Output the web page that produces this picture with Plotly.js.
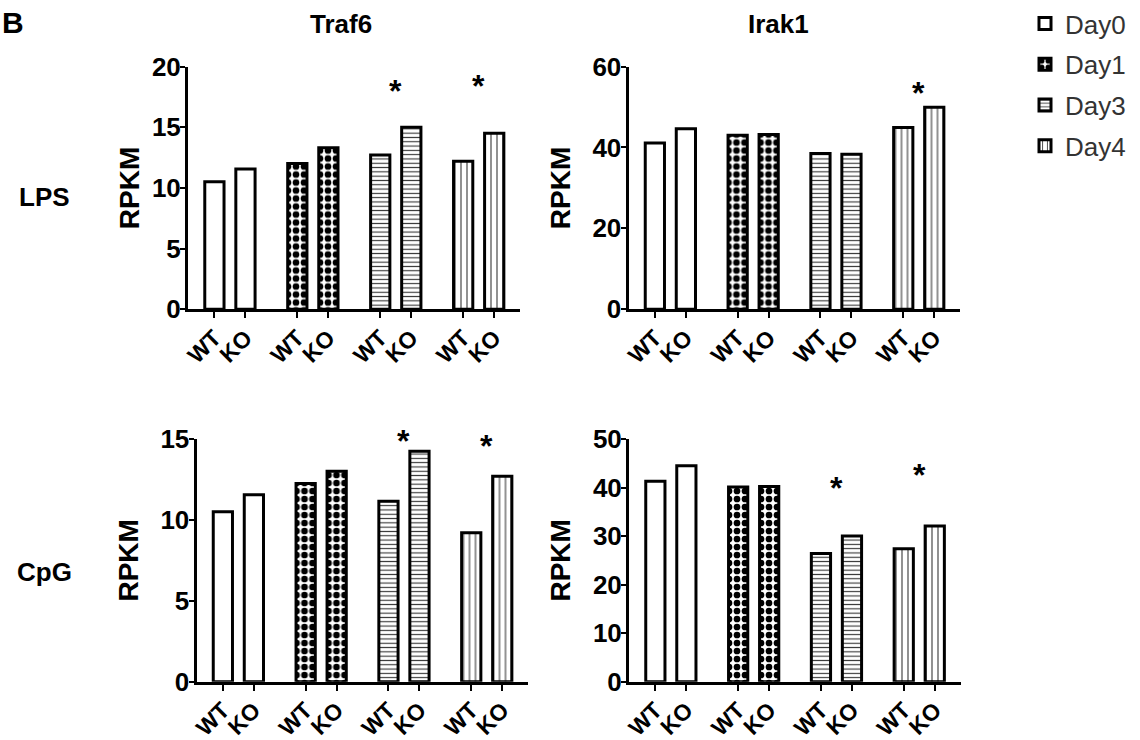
<!DOCTYPE html>
<html>
<head>
<meta charset="utf-8">
<script src="https://cdn.plot.ly/plotly-3.0.1.min.js"></script>
<style>html,body{margin:0;padding:0;background:#fff}</style>
</head>
<body>
<div id="chart" style="width:1140px;height:740px"></div>
<script>
// ---------------- data ----------------
const days = ['Day0', 'Day1', 'Day3', 'Day4'];
const genotypes = ['WT', 'KO'];
const genes = ['Traf6', 'Irak1'];
const stimuli = ['LPS', 'CpG'];

const traf6LpsWT = [10.5, 12.0, 12.7, 12.2];
const traf6LpsKO = [11.55, 13.3, 15.0, 14.5];
const irak1LpsWT = [41.1, 43.0, 38.5, 44.9];
const irak1LpsKO = [44.6, 43.2, 38.3, 49.9];
const traf6CpgWT = [10.5, 12.25, 11.15, 9.2];
const traf6CpgKO = [11.55, 13.0, 14.25, 12.7];
const irak1CpgWT = [41.3, 40.1, 26.4, 27.4];
const irak1CpgKO = [44.5, 40.2, 30.0, 32.1];

// significance marks: level (RPKM) where the * is drawn, null = not significant
const traf6LpsStar = [null, null, 18.3, 18.7];
const irak1LpsStar = [null, null, null, 54.5];
const traf6CpgStar = [null, null, 15.1, 14.8];
const irak1CpgStar = [null, null, 40.7, 43.4];

const yAxisMax = [20, 60, 15, 50];
const yAxisStep = [5, 20, 5, 10];

// ---------------- layout helpers ----------------
const W = 1140, H = 740;
const FONT = 'Liberation Sans, Arial, sans-serif';
const GROUP_STEP = 2.67;
const BAR_WIDTH = 0.62;
const XRANGE = [-0.85, 9.84];

const panels = [
  {wt: traf6LpsWT, ko: traf6LpsKO, star: traf6LpsStar, px: [188, 520], py: [66.5, 309.3], standoff: 5},
  {wt: irak1LpsWT, ko: irak1LpsKO, star: irak1LpsStar, px: [628.5, 960], py: [66.5, 309.3], standoff: 14},
  {wt: traf6CpgWT, ko: traf6CpgKO, star: traf6CpgStar, px: [196.5, 528], py: [439, 681.7], standoff: 14},
  {wt: irak1CpgWT, ko: irak1CpgKO, star: irak1CpgStar, px: [629, 960.5], py: [439, 681.7], standoff: 15}
];

const patterns = [
  {shape: ''},
  {shape: '.', size: 8, solidity: 0.55, fgcolor: '#000', fgopacity: 1},
  {shape: '-', size: 4.3, solidity: 0.26, fgcolor: '#333', fgopacity: 1},
  {shape: '|', size: 6, solidity: 0.18, fgcolor: '#333', fgopacity: 1}
];

const pos = (d, g) => d * GROUP_STEP + g;

const traces = [];
const layout = {
  width: W, height: H,
  margin: {l: 0, r: 0, t: 0, b: 0},
  paper_bgcolor: '#fff',
  plot_bgcolor: 'rgba(0,0,0,0)',
  barmode: 'overlay',
  showlegend: true,
  legend: {
    x: 1025 / W, y: 1 - 0 / H, xanchor: 'left', yanchor: 'top',
    font: {family: FONT, size: 26, color: '#333'},
    bgcolor: 'rgba(0,0,0,0)', borderwidth: 0,
    tracegroupgap: 4, itemwidth: 30
  },
  font: {family: FONT, color: '#000'},
  annotations: []
};

panels.forEach((p, k) => {
  const n = k + 1;
  const xa = 'x' + n, ya = 'y' + n;
  days.forEach((day, d) => {
    traces.push({
      type: 'bar',
      x: [pos(d, 0), pos(d, 1)],
      y: [p.wt[d], p.ko[d]],
      width: BAR_WIDTH,
      name: day,
      legendgroup: day,
      showlegend: k === 0,
      xaxis: xa, yaxis: ya,
      marker: {
        color: '#fff',
        line: {color: '#000', width: 3},
        pattern: patterns[d]
      },
      hoverinfo: 'skip'
    });
    if (p.star[d] !== null) {
      layout.annotations.push({
        xref: xa, yref: ya + ' domain',
        x: pos(d, 0.5), y: p.star[d] / yAxisMax[k],
        text: '*', showarrow: false,
        xanchor: 'center', yanchor: 'middle', yshift: -4,
        font: {family: FONT, size: 32, weight: 700, color: '#000'}
      });
    }
  });
  const tickvals = [], ticktext = [];
  days.forEach((day, d) => genotypes.forEach((g, gi) => { tickvals.push(pos(d, gi)); ticktext.push(g); }));
  layout['xaxis' + n] = {
    domain: [p.px[0] / W, p.px[1] / W],
    anchor: ya,
    range: XRANGE,
    tickmode: 'array', tickvals: tickvals, ticktext: ticktext,
    tickangle: -45,
    ticklabelstandoff: -3,
    tickfont: {family: FONT, size: 23, weight: 700, color: '#000'},
    showline: true, linecolor: '#000', linewidth: 3,
    ticks: 'outside', ticklen: 6, tickwidth: 2, tickcolor: '#000',
    showgrid: false, zeroline: false, fixedrange: true
  };
  layout['yaxis' + n] = {
    domain: [1 - p.py[1] / H, 1 - p.py[0] / H],
    anchor: xa,
    range: [0, yAxisMax[k]],
    tickmode: 'linear', tick0: 0, dtick: yAxisStep[k],
    ticklabelstandoff: -6,
    tickfont: {family: FONT, size: 26, weight: 700, color: '#000'},
    showline: true, linecolor: '#000', linewidth: 3,
    ticks: 'outside', ticklen: 5, tickwidth: 2, tickcolor: '#000',
    showgrid: false, zeroline: false, fixedrange: true,
    title: {text: 'RPKM', standoff: p.standoff, font: {family: FONT, size: 28, weight: 700, color: '#000'}}
  };
});

// column titles, row labels, panel letter
const colX = [340.5, 778];
genes.forEach((g, i) => layout.annotations.push({
  xref: 'paper', yref: 'paper', x: colX[i] / W, y: 1 - 24 / H,
  text: g, showarrow: false, xanchor: 'center', yanchor: 'middle',
  font: {family: FONT, size: 26, weight: 700, color: '#000'}
}));
const rowY = [197, 572];
stimuli.forEach((s, i) => layout.annotations.push({
  xref: 'paper', yref: 'paper', x: 44 / W, y: 1 - rowY[i] / H,
  text: s, showarrow: false, xanchor: 'center', yanchor: 'middle',
  font: {family: FONT, size: 26, weight: 700, color: '#000'}
}));
layout.annotations.push({
  xref: 'paper', yref: 'paper', x: 0, y: 1 - 22 / H,
  text: 'B', showarrow: false, xanchor: 'left', yanchor: 'middle',
  font: {family: FONT, size: 30, weight: 700, color: '#000'}
});

Plotly.newPlot('chart', traces, layout, {displayModeBar: false, staticPlot: true});
</script>
</body>
</html>
